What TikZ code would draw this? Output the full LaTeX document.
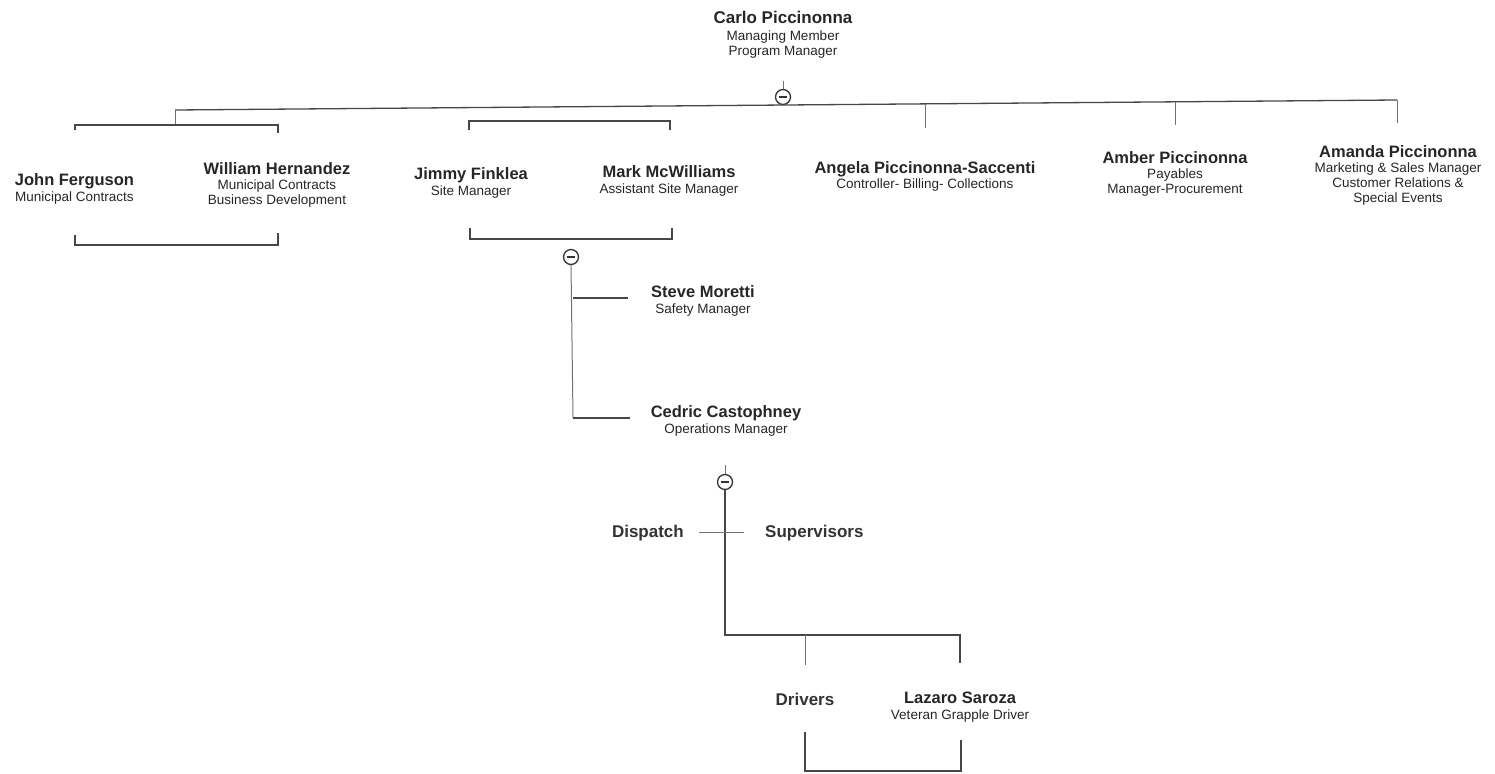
\documentclass[tikz,border=0pt]{standalone}
\usepackage{fontspec}
\setmainfont{Liberation Sans}
\newcommand\nmfont{\fontsize{16.5}{18}\selectfont\bfseries}
\newcommand\sbfont{\fontsize{13.5}{15}\selectfont}
\begin{document}
\begin{tikzpicture}[x=1pt,y=-1pt,
  person/.style={align=center,inner sep=0pt,anchor=north,text=black!85,font=\sbfont},
  label/.style={inner sep=0pt,text=black!80,font=\fontsize{17}{19}\selectfont\bfseries},
  conn/.style={draw=black!72,line width=1.3pt},
  thin conn/.style={draw=black!55,line width=1pt},
  toggle/.style={circle,draw=black!80,line width=1.3pt,minimum size=15pt,inner sep=0pt,fill=white,
    path picture={\draw[line width=1.8pt] ([xshift=-3.8pt]path picture bounding box.center) -- ([xshift=3.8pt]path picture bounding box.center);}},
]
\useasboundingbox (0,0) rectangle (1495,773);

% people
\node[person] (carlo) at (783,11) {{\fontsize{17}{19}\selectfont\bfseries Carlo Piccinonna}\\[2pt]Managing Member\\Program Manager};
\node[person] (john) at (74.5,173) {{\nmfont John Ferguson}\\[1pt]Municipal Contracts};
\node[person] (william) at (277,162) {{\nmfont William Hernandez}\\[0pt]Municipal Contracts\\Business Development};
\node[person] (jimmy) at (471,167) {{\nmfont Jimmy Finklea}\\[1pt]Site Manager};
\node[person] (mark) at (669,165) {{\nmfont Mark McWilliams}\\[1pt]Assistant Site Manager};
\node[person] (angela) at (925,161) {{\nmfont Angela Piccinonna-Saccenti}\\[0pt]Controller- Billing- Collections};
\node[person] (amber) at (1175,151) {{\nmfont Amber Piccinonna}\\[0pt]Payables\\Manager-Procurement};
\node[person] (amanda) at (1398,145) {{\nmfont Amanda Piccinonna}\\[0pt]Marketing \& Sales Manager\\Customer Relations \&\\Special Events};
\node[person] (steve) at (703,285) {{\nmfont Steve Moretti}\\[1pt]Safety Manager};
\node[person] (cedric) at (726,405) {{\nmfont Cedric Castophney}\\[1pt]Operations Manager};
\node[label,anchor=east] (dispatch) at (684,533) {Dispatch};
\node[label,anchor=west] (superv) at (765,533) {Supervisors};
\node[label] (drivers) at (805,699) {Drivers};
\node[person] (lazaro) at (960,692) {{\nmfont Lazaro Saroza}\\[1pt]Veteran Grapple Driver};

% toggles
\node[toggle] (t1) at (783,97) {};
\node[toggle] (t2) at (571,257) {};
\node[toggle] (t3) at (725,482) {};

% coordinates
\coordinate (mL) at (175,110);
\coordinate (mR) at (1397,100);
\coordinate (mA) at (925,103.9);
\coordinate (mB) at (1175,101.8);

% top level
\draw[thin conn] (t1.north) -- (783,81);
\draw[conn] (mL) -- (mR);
\draw[thin conn] (175,125) -- (mL);
\draw[thin conn] (mR) -- (1397,123);
\draw[thin conn] (mA) -- (925,128);
\draw[thin conn] (mB) -- (1175,125);

% John / William group
\draw[conn] (75,130) -- (75,125) -- (278,125) -- (278,133);
\draw[conn] (75,235) -- (75,245) -- (278,245) -- (278,233);

% Jimmy / Mark group
\draw[conn] (469,130) -- (469,121) -- (670,121) -- (670,130);
\draw[conn] (470,228) -- (470,239) -- (672,239) -- (672,228);

% Steve / Cedric
\draw[thin conn] (t2.south) -- (573,418);
\draw[conn] (573,418) -- (630,418);
\draw[conn] (573,298) -- (628,298);

% operations
\draw[thin conn] (t3.north) -- (725,465);
\draw[conn] (t3.south) -- (725,635) -- (960,635) -- (960,663);
\draw[thin conn] (805,635) -- (805,665);
\draw[thin conn] (699,532) -- (744,532);

% drivers group
\draw[conn] (805,732) -- (805,771) -- (961,771) -- (961,740);
\end{tikzpicture}
\end{document}
